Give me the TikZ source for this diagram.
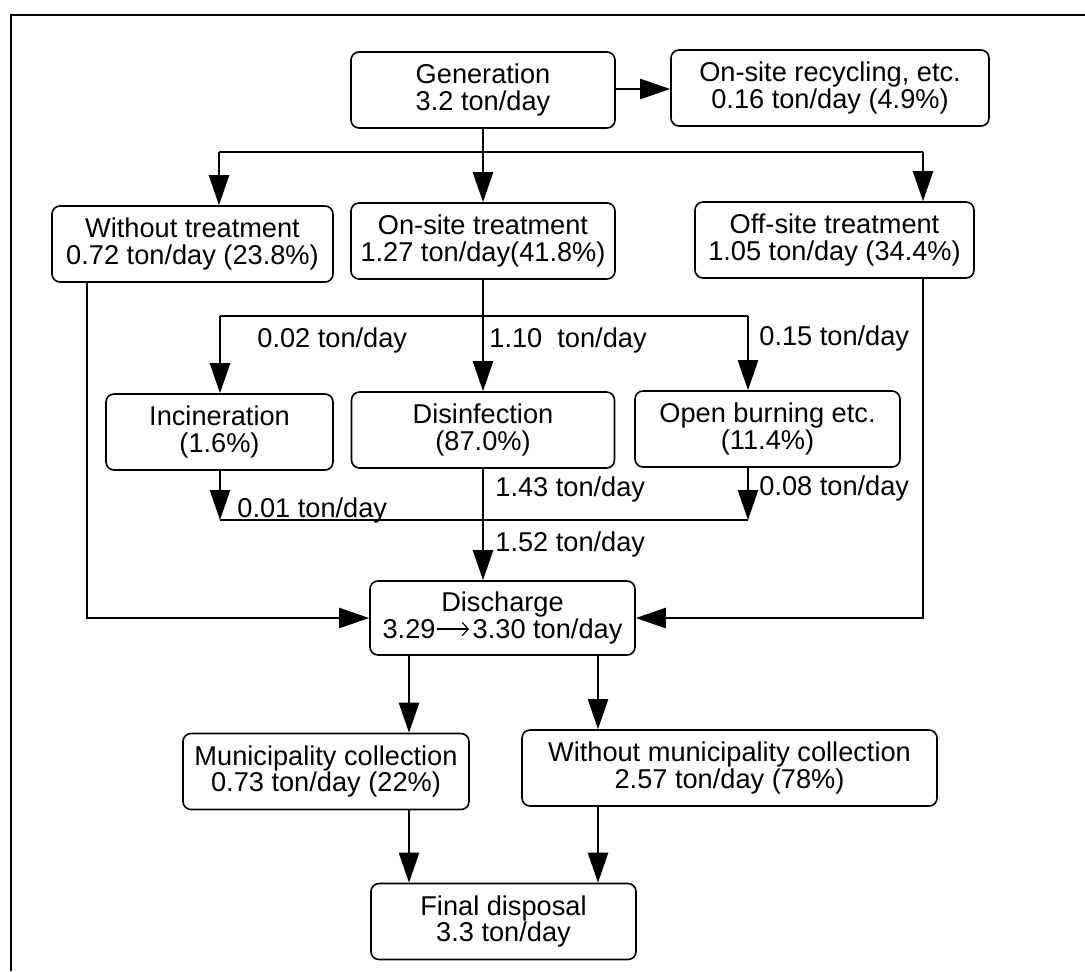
\documentclass[tikz,border=0pt]{standalone}
\usepackage{fontspec}
\setmainfont{Liberation Sans}
\usetikzlibrary{arrows.meta}
\newcommand{\flowarrow}{\kern0.5pt\tikz[x=1pt,y=1pt,baseline={(0pt,-4.6pt)}]\draw[line width=0.6pt,-{Straight Barb[length=3pt,width=6.5pt]}] (0,0) -- (16,0);\kern1.5pt}
\begin{document}
\begin{tikzpicture}[x=0.5pt,y=-0.5pt,
  txt/.style={font=\fontsize{13.6pt}{13.2pt}\selectfont},
  box/.style={txt, draw, line width=0.8pt, rounded corners=4pt, align=center, inner sep=0pt, minimum height=38pt},
  conn/.style={line width=1.2pt},
  arr/.style={conn, -{Triangle[length=15pt,width=10pt]}},
  lbl/.style={txt, anchor=west, inner sep=0pt},
  frame/.style={line width=1pt}]
\useasboundingbox (0,0) rectangle (1085,971);
% frame
\coordinate (fTL) at (11,15);
\coordinate (fTR) at (1085,15);
\coordinate (fBL) at (11,971);
\draw[frame] (fBL) -- (fTL) -- (fTR);

% boxes
\node[box, minimum width=132pt] (gen) at (483,90) {Generation\\3.2 ton/day};
\node[box, minimum width=159pt] (rec) at (830,88) {On-site recycling, etc.\\0.16 ton/day (4.9\%)};
\node[box, minimum width=140.5pt] (wo) at (192.5,244) {Without treatment\\0.72 ton/day (23.8\%)};
\node[box, minimum width=132pt] (on) at (483,241) {On-site treatment\\1.27 ton/day(41.8\%)};
\node[box, minimum width=139.5pt] (off) at (834.5,240) {Off-site treatment\\1.05 ton/day (34.4\%)};
\node[box, minimum width=113.5pt] (inc) at (219.5,432) {Incineration\\(1.6\%)};
\node[box, minimum width=131.5pt] (dis) at (483,430) {Disinfection\\(87.0\%)};
\node[box, minimum width=132.5pt] (open) at (767.5,429) {Open burning etc.\\(11.4\%)};
\node[box, minimum width=132.5pt, minimum height=37pt] (disch) at (502.5,618) {Discharge\\3.29\flowarrow3.30 ton/day};
\node[box, minimum width=143pt] (mun) at (326,771.5) {Municipality collection\\0.73 ton/day (22\%)};
\node[box, minimum width=207.5pt] (wmun) at (729.5,768) {Without municipality collection\\2.57 ton/day (78\%)};
\node[box, minimum width=132.5pt] (fin) at (503.5,921.5) {Final disposal\\3.3 ton/day};

% junction coordinates
\coordinate (j1L) at (219,152);
\coordinate (j1R) at (923,152);
\coordinate (j2L) at (220,316);
\coordinate (j2R) at (748,316);
\coordinate (j3L) at (220,520);
\coordinate (j3R) at (748,520);
\coordinate (woX) at (87,0);
\coordinate (cL) at (409,0);
\coordinate (cR) at (598,0);

% generation
\draw[arr] (gen.east |- 0,89) -- (rec.west |- 0,89);
\draw[arr] (gen.south) -- (on.north);
\draw[conn] (j1L) -- (j1R);
\draw[arr] (j1L) -- (j1L |- wo.north);
\draw[arr] (j1R) -- (j1R |- off.north);

% on-site treatment split
\draw[arr] (on.south) -- (dis.north);
\draw[conn] (j2L) -- (j2R);
\draw[arr] (j2L) -- (j2L |- inc.north);
\draw[arr] (j2R) -- (j2R |- open.north);

% merge
\draw[arr] (j3L |- inc.south) -- (j3L);
\draw[arr] (j3R |- open.south) -- (j3R);
\draw[conn] (j3L) -- (j3R);
\draw[arr] (dis.south) -- (dis.south |- disch.north);

% side flows to discharge
\draw[arr] (woX |- wo.south) |- (disch.west);
\draw[arr] (j1R |- off.south) |- (disch.east);

% discharge to collection
\draw[arr] (cL |- disch.south) -- (cL |- mun.north);
\draw[arr] (cR |- disch.south) -- (cR |- wmun.north);
\draw[arr] (cL |- mun.south) -- (cL |- fin.north);
\draw[arr] (cR |- wmun.south) -- (cR |- fin.north);

% labels
\node[lbl] (l1) at (257,340) {0.02 ton/day};
\node[lbl] (l2) at (489,340) {1.10\ \ ton/day};
\node[lbl] (l3) at (759,338) {0.15 ton/day};
\node[lbl] (l4) at (237,510) {0.01 ton/day};
\node[lbl] (l5) at (495,489) {1.43 ton/day};
\node[lbl] (l6) at (759,488) {0.08 ton/day};
\node[lbl] (l7) at (495,544) {1.52 ton/day};
\end{tikzpicture}
\end{document}
